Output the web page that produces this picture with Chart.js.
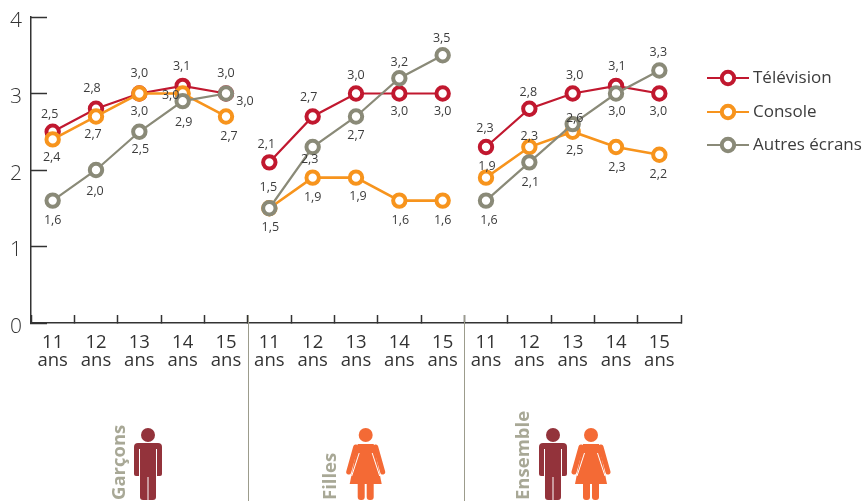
<!DOCTYPE html>
<html lang="fr">
<head>
<meta charset="utf-8">
<title>Temps devant les écrans</title>
<script src="https://cdn.jsdelivr.net/npm/chart.js@4"></script>
<style>
  html, body { margin: 0; padding: 0; background: #fff; }
  canvas { display: block; }
</style>
</head>
<body>
<canvas id="chart" width="864" height="501"></canvas>
<script>
var ages = ["11","12","13","14","15","11","12","13","14","15","11","12","13","14","15"];
var yTicks = [0, 1, 2, 3, 4];
var groupes = ["Garçons", "Filles", "Ensemble"];

var television = [2.5, 2.8, 3.0, 3.1, 3.0, 2.1, 2.7, 3.0, 3.0, 3.0, 2.3, 2.8, 3.0, 3.1, 3.0];
var consoleJeu = [2.4, 2.7, 3.0, 3.0, 2.7, 1.5, 1.9, 1.9, 1.6, 1.6, 1.9, 2.3, 2.5, 2.3, 2.2];
var autres     = [1.6, 2.0, 2.5, 2.9, 3.0, 1.5, 2.3, 2.7, 3.2, 3.5, 1.6, 2.1, 2.6, 3.0, 3.3];

var ROUGE = "#c1182f", ORANGE = "#f7941d", GRIS = "#8a8a78", TEXTE = "#3c3c3c";
var FONT = '"Open Sans", sans-serif';

// decalage des etiquettes de valeur par rapport au point [dx, dy]
var decalTele = [[-3,-17],[-4,-20],[0,-20],[-1,-19],[0,-20],[-3,-18],[-4,-19],[0,-18],[0,18],[0,18],[-1,-19],[-1,-16],[2,-18],[1,-19],[-1,18]];
var decalConsole = [[-1,18],[-3,18],[0,18],[-12,2],[3,20],[1,19],[0,20],[2,19],[1,20],[0,20],[1,-11],[0,-11],[2,19],[1,20],[-1,20]];
var decalAutres = [[0,20],[-1,21],[1,18],[1,21],[19,8],[-1,-21],[-3,12],[0,19],[0,-16],[-1,-17],[3,20],[1,20],[2,-6],[1,18],[-1,-18]];

function virgule(v){ return v.toFixed(1).replace(".", ","); }

// coupe la ligne entre deux groupes (11 a 15 ans)
function coupure(couleur){
  return function(ctx){ return ctx.p0DataIndex % 5 === 4 ? "rgba(0,0,0,0)" : couleur; };
}

function serie(nom, valeurs, couleur, epaisseur, decal, ordre){
  return {
    label: nom,
    data: valeurs,
    decal: decal,
    order: ordre,
    borderColor: couleur,
    borderWidth: epaisseur,
    segment: { borderColor: coupure(couleur) },
    pointRadius: 6.2,
    pointBorderWidth: 4,
    pointBorderColor: couleur,
    pointBackgroundColor: "#fff",
    tension: 0
  };
}

function dessineHomme(c, cx){
  c.fillStyle = "#93333b";
  c.beginPath(); c.arc(cx, 435, 7, 0, Math.PI * 2); c.fill();
  c.beginPath();
  c.roundRect(cx - 14, 443, 28, 33, [4, 4, 2, 2]);
  c.fill();
  c.beginPath();
  c.roundRect(cx - 8, 445, 16, 55, [0, 0, 3, 3]);
  c.fill();
  c.strokeStyle = "#fff";
  c.lineWidth = 1;
  c.beginPath();
  c.moveTo(cx - 8.5, 449); c.lineTo(cx - 8.5, 477);
  c.moveTo(cx + 8.5, 449); c.lineTo(cx + 8.5, 477);
  c.stroke();
  c.beginPath(); c.moveTo(cx, 477); c.lineTo(cx, 501); c.stroke();
}

function dessineFemme(c, cx){
  c.fillStyle = "#f46a35";
  c.beginPath(); c.arc(cx, 435, 7, 0, Math.PI * 2); c.fill();
  c.strokeStyle = "#f46a35";
  c.lineWidth = 5;
  c.lineCap = "round";
  c.beginPath();
  c.moveTo(cx - 10, 447); c.lineTo(cx - 17, 472);
  c.moveTo(cx + 10, 447); c.lineTo(cx + 17, 472);
  c.stroke();
  c.lineCap = "butt";
  c.beginPath();
  c.moveTo(cx - 8, 444); c.lineTo(cx + 8, 444);
  c.lineTo(cx + 16, 484); c.lineTo(cx - 16, 484);
  c.closePath();
  c.fill();
  c.strokeStyle = "#fff";
  c.lineWidth = 1;
  c.beginPath();
  c.moveTo(cx - 6.5, 453); c.lineTo(cx - 14, 476);
  c.moveTo(cx + 6.5, 453); c.lineTo(cx + 14, 476);
  c.stroke();
  c.fillStyle = "#f46a35";
  c.beginPath(); c.roundRect(cx - 8, 484, 7, 16, [0, 0, 3, 3]); c.fill();
  c.beginPath(); c.roundRect(cx + 1, 484, 7, 16, [0, 0, 3, 3]); c.fill();
}

function texteVertical(c, txt, x, bas){
  c.save();
  c.translate(x, bas);
  c.rotate(-Math.PI / 2);
  c.font = "bold 18.5px " + FONT;
  c.fillStyle = "#a8a896";
  c.textAlign = "left";
  c.textBaseline = "middle";
  c.fillText(txt, 0, 0);
  c.restore();
}

var habillage = {
  id: "habillage",
  afterDatasetsDraw: function(chart){
    var c = chart.ctx;
    var sx = chart.scales.x;
    c.save();

    // etiquettes de valeur
    c.font = "12.5px " + FONT;
    c.fillStyle = TEXTE;
    c.textAlign = "center";
    c.textBaseline = "middle";
    chart.data.datasets.forEach(function(ds, i){
      chart.getDatasetMeta(i).data.forEach(function(pt, j){
        c.fillText(virgule(ds.data[j]), pt.x + ds.decal[j][0], pt.y + ds.decal[j][1]);
      });
    });

    // separateurs de groupes
    c.strokeStyle = "#9c9c8c";
    c.lineWidth = 1;
    [4, 9].forEach(function(k){
      var x = Math.round((sx.getPixelForValue(k) + sx.getPixelForValue(k + 1)) / 2) + 0.5;
      c.beginPath();
      c.moveTo(x, chart.chartArea.bottom - 8);
      c.lineTo(x, 501);
      c.stroke();
    });

    // legende
    var ly = [78, 112, 145];
    chart.data.datasets.forEach(function(ds, i){
      c.strokeStyle = ds.borderColor;
      c.lineWidth = 1.8;
      c.beginPath(); c.moveTo(707, ly[i]); c.lineTo(749, ly[i]); c.stroke();
      c.fillStyle = "#fff";
      c.lineWidth = 4;
      c.beginPath(); c.arc(728, ly[i], 6.2, 0, Math.PI * 2); c.fill(); c.stroke();
      c.fillStyle = TEXTE;
      c.font = "17px " + FONT;
      c.textAlign = "left";
      c.fillText(ds.label, 753, ly[i]);
    });

    // groupes et pictogrammes
    texteVertical(c, groupes[0], 120, 500);
    texteVertical(c, groupes[1], 331, 500);
    texteVertical(c, groupes[2], 524, 500);
    dessineHomme(c, 148);
    dessineFemme(c, 365.7);
    dessineHomme(c, 553);
    dessineFemme(c, 591);
    c.restore();
  }
};

new Chart(document.getElementById("chart"), {
  type: "line",
  data: {
    labels: ages.map(function(a){ return [a, "ans"]; }),
    datasets: [
      serie("Télévision", television, ROUGE, 2.2, decalTele, 3),
      serie("Console", consoleJeu, ORANGE, 2.6, decalConsole, 2),
      serie("Autres écrans", autres, GRIS, 2.2, decalAutres, 1)
    ]
  },
  options: {
    responsive: false,
    animation: false,
    layout: { padding: { top: 17, right: 183, left: 0, bottom: 0 } },
    plugins: { legend: { display: false }, tooltip: { enabled: false } },
    scales: {
      x: {
        offset: true,
        afterFit: function(s){ s.height = 178; },
        grid: { offset: true, drawOnChartArea: false, tickLength: -8, tickColor: "#333", tickWidth: 1.5 },
        border: { color: "#333", width: 1.5 },
        ticks: {
          autoSkip: false, maxRotation: 0, padding: 19, color: "#333",
          font: { family: FONT, size: 18.5, weight: "400", lineHeight: 0.97 }
        }
      },
      y: {
        min: 0,
        max: 4,
        afterFit: function(s){ s.width = 31; s.paddingTop = 0; s.paddingBottom = 0; },
        afterBuildTicks: function(s){ s.ticks = yTicks.map(function(v){ return { value: v }; }); },
        grid: { drawOnChartArea: false, tickLength: -16, tickColor: "#333", tickWidth: 1.5 },
        border: { color: "#333", width: 1.5 },
        ticks: {
          padding: 25, labelOffset: 4, color: "#333",
          font: { family: FONT, size: 21, weight: "300" }
        }
      }
    }
  },
  plugins: [habillage]
});
</script>
</body>
</html>
